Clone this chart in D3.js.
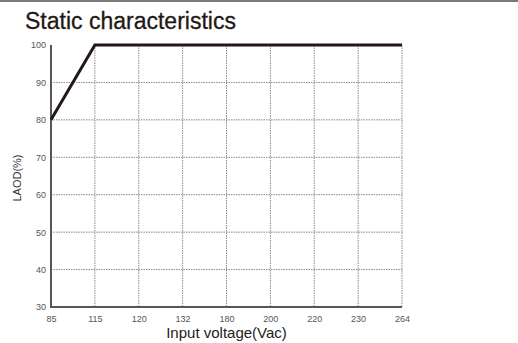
<!DOCTYPE html>
<html><head><meta charset="utf-8">
<script src="https://cdn.jsdelivr.net/npm/d3@7/dist/d3.min.js"></script>
<style>body{margin:0;background:#fff}svg{display:block}</style>
</head><body>
<script>
const voltages = ["85","115","120","132","180","200","220","230","264"];
const load = [80,100,100,100,100,100,100,100,100];
const yTicks = [30,40,50,60,70,80,90,100];
const title = "Static characteristics";
const xTitle = "Input voltage(Vac)";
const yTitle = "LAOD(%)";

const W = 518, H = 343;
const m = {l:51, r:116, t:45, b:36};
const svg = d3.select("body").append("svg").attr("width",W).attr("height",H);
svg.append("rect").attr("x",0).attr("y",0).attr("width",W).attr("height",2).attr("fill","#7a7a7a");
svg.append("text").attr("x",25).attr("y",29).attr("font-family","Liberation Sans, Arial, sans-serif")
  .attr("font-size",23).attr("fill","#231815").attr("stroke","#231815").attr("stroke-width",0.3).text(title);

const x = d3.scalePoint().domain(voltages).range([m.l, W-m.r]);
const y = d3.scaleLinear().domain([30,100]).range([H-m.b, m.t]);

const g = svg.append("g");
g.selectAll(".vg").data(voltages.slice(1)).enter().append("line")
  .attr("x1",d=>x(d)).attr("x2",d=>x(d)).attr("y1",y(100)).attr("y2",y(30))
  .attr("stroke","#8a8a8a").attr("stroke-width",1).attr("stroke-dasharray","1.5,1");
g.selectAll(".hg").data(yTicks.filter(v=>v>30&&v<100)).enter().append("line")
  .attr("x1",x(voltages[0])).attr("x2",x(voltages[voltages.length-1])).attr("y1",d=>y(d)).attr("y2",d=>y(d))
  .attr("stroke","#8a8a8a").attr("stroke-width",1).attr("stroke-dasharray","1.5,1");

const xa = svg.append("g").attr("transform",`translate(0,${y(30)})`)
  .call(d3.axisBottom(x).tickSize(0).tickPadding(9));
const ya = svg.append("g").attr("transform",`translate(${x(voltages[0])},0)`)
  .call(d3.axisLeft(y).tickValues(yTicks).tickSize(0).tickPadding(5));
[xa,ya].forEach(a=>{
  a.select(".domain").attr("stroke","#5a5656").attr("stroke-width",2);
  a.selectAll("text").attr("font-family","Liberation Sans, Arial, sans-serif").attr("font-size",9).attr("fill","#555");
});
ya.select(".domain").attr("d",`M0,${y(100)}V${y(30)+1}`);
xa.select(".domain").attr("d",`M${x(voltages[0])-1},0H${x(voltages[voltages.length-1])}`);

svg.append("path").datum(voltages.map((v,i)=>[v,load[i]]))
  .attr("fill","none").attr("stroke","#231815").attr("stroke-width",3)
  .attr("d",d3.line().x(d=>x(d[0])).y(d=>y(d[1])));

svg.append("text").attr("x",(x(voltages[0])+x(voltages[8]))/2).attr("y",338)
  .attr("text-anchor","middle").attr("font-family","Liberation Sans, Arial, sans-serif")
  .attr("font-size",15).attr("fill","#222").text(xTitle);
svg.append("text").attr("transform",`translate(21,${(y(30)+y(100))/2+2}) rotate(-90)`)
  .attr("text-anchor","middle").attr("font-family","Liberation Sans, Arial, sans-serif")
  .attr("font-size",11).attr("fill","#333").text(yTitle);
</script>
</body></html>
